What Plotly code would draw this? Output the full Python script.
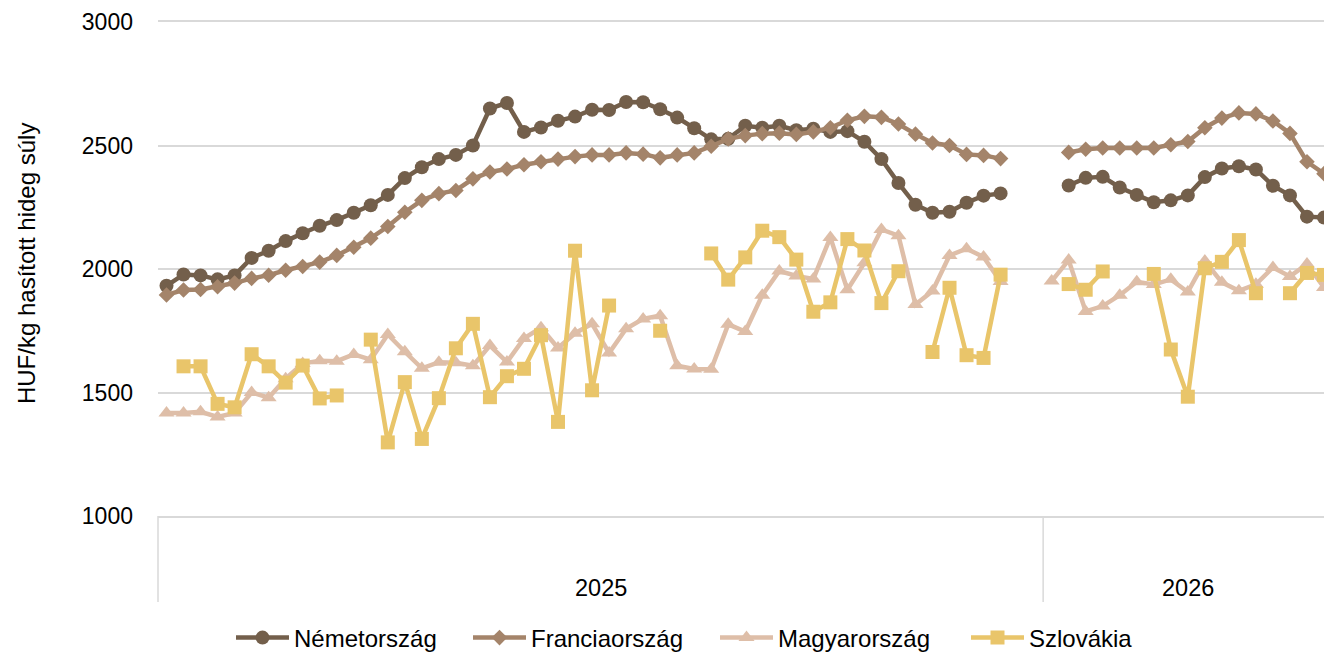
import plotly.graph_objects as go

# ---- categories ----
years = ["2025", "2026"]
weeks_2025 = list(range(1, 53))   # 52 weeks
weeks_2026 = list(range(1, 18))   # 17 weeks shown

# ---- series values (HUF/kg hasított hideg súly) ----
nemet_2025 = [1932, 1978, 1974, 1958, 1974, 2045, 2074, 2113, 2145, 2175, 2198, 2228, 2258, 2300, 2368, 2412, 2445,
              2462, 2500, 2650, 2672, 2555, 2573, 2600, 2617, 2645, 2644, 2676, 2675, 2647, 2613, 2570, 2525, 2527,
              2580, 2572, 2580, 2562, 2568, 2555, 2558, 2515, 2445, 2348, 2260, 2228, 2232, 2268, 2297, 2306,
              None, None]
nemet_2026 = [None, 2338, 2369, 2373, 2330, 2300, 2270, 2278, 2298, 2372, 2407, 2416, 2403, 2337, 2298, 2212, 2208]

francia_2025 = [1895, 1915, 1917, 1928, 1943, 1962, 1975, 1995, 2010, 2028, 2055, 2088, 2125, 2172, 2230, 2278, 2305,
                2318, 2365, 2393, 2405, 2422, 2434, 2445, 2455, 2462, 2462, 2470, 2465, 2450, 2462, 2470, 2497, 2527,
                2540, 2548, 2550, 2545, 2555, 2572, 2602, 2618, 2614, 2587, 2546, 2510, 2500, 2464, 2460, 2447,
                None, None]
francia_2026 = [None, 2472, 2485, 2490, 2490, 2490, 2490, 2503, 2516, 2572, 2611, 2632, 2628, 2599, 2549, 2434, 2386]

magyar_2025 = [1417, 1417, 1422, 1401, 1417, 1500, 1479, 1556, 1617, 1629, 1627, 1654, 1633, 1735, 1665, 1598, 1622,
               1620, 1608, 1690, 1623, 1719, 1762, 1680, 1740, 1778, 1660, 1758, 1798, 1811, 1608, 1595, 1594, 1776,
               1747, 1894, 1992, 1972, 1960, 2128, 1916, 2025, 2160, 2135, 1856, 1911, 2055, 2082, 2049, 1949,
               None, None]
magyar_2026 = [1951, 2036, 1828, 1850, 1894, 1948, 1937, 1958, 1907, 2032, 1946, 1912, 1938, 2006, 1970, 2020, 1925]

szlovak_2025 = [None, 1606, 1606, 1454, 1440, 1655, 1606, 1540, 1609, 1476, 1488, None, 1714, 1298, 1542, 1312, 1477,
                1679, 1778, 1481, 1566, 1596, 1732, 1381, 2074, 1509, 1852, None, None, 1750, None, None, 2063, 1957,
                2047, 2155, 2129, 2038, 1827, 1865, 2121, 2075, 1862, 1991, None, 1664, 1924, 1651, 1640, 1977,
                None, None]
szlovak_2026 = [None, 1939, 1916, 1990, None, None, 1980, 1674, 1483, 2003, 2029, 2117, 1902, None, 1902, 1984, 1976]

series_names = ["Németország", "Franciaország", "Magyarország", "Szlovákia"]
series_values = [nemet_2025 + nemet_2026, francia_2025 + francia_2026,
                 magyar_2025 + magyar_2026, szlovak_2025 + szlovak_2026]
colors = ["#735F4B", "#A4846A", "#DEBEA8", "#E9C56A"]
symbols = ["circle", "diamond", "triangle-up", "square"]
msizes = [14, 12, 14, 14]

y_ticks = [1000, 1500, 2000, 2500, 3000]

n25, n26 = len(weeks_2025), len(weeks_2026)
x_pos = list(range(n25 + n26))

FONT = "Arial, 'Liberation Sans', sans-serif"
W, H = 1324, 653
legend_ids = ["legend", "legend2", "legend3", "legend4"]
legend_left_px = [231, 468, 715, 966]   # left edge of each legend entry

fig = go.Figure()
for name, vals, col, sym, ms, lid in zip(series_names, series_values, colors, symbols, msizes, legend_ids):
    fig.add_trace(go.Scatter(
        x=x_pos, y=vals, name=name, mode="lines+markers",
        line=dict(color=col, width=4.5),
        marker=dict(symbol=sym, size=ms, color=col),
        connectgaps=False, legend=lid,
    ))

x_lo, x_hi = -0.5, n25 + n26 - 1.0
span = x_hi - x_lo

legend_common = dict(orientation="h", xref="container", yref="container", xanchor="left",
                     yanchor="middle", y=(H - 638) / H, font=dict(size=24, family=FONT),
                     itemwidth=53, bgcolor="rgba(0,0,0,0)", borderwidth=0)
legends = {}
for lid, lx in zip(legend_ids, legend_left_px):
    legends[lid] = dict(legend_common, x=lx / W)

L, T, B = 158, 22, 137
plot_w = W - L

fig.update_layout(
    width=W, height=H,
    margin=dict(l=L, r=0, t=T, b=B, autoexpand=False),
    paper_bgcolor="white", plot_bgcolor="white",
    font=dict(family=FONT, size=23, color="#000000"),
    showlegend=True,
    xaxis=dict(range=[x_lo, x_hi], showticklabels=False, showgrid=False, zeroline=False,
               showline=True, mirror=True, linecolor="#D9D9D9", linewidth=1.5, ticks=""),
    yaxis=dict(range=[1000, 3000], tickvals=y_ticks, ticktext=[str(v) for v in y_ticks],
               showgrid=True, gridcolor="#D9D9D9", gridwidth=1.5, zeroline=False, showline=False,
               ticks="", ticklabelstandoff=24, automargin=False, tickfont=dict(size=23, family=FONT)),
    **legends,
)

# y-axis title
fig.add_annotation(text="HUF/kg hasított hideg súly", textangle=-90, xref="paper", yref="paper",
                   x=-132 / plot_w, y=0.51, xanchor="center", yanchor="middle", showarrow=False,
                   font=dict(size=24, family=FONT))

# year category labels
centers = [(n25 - 1) / 2, n25 + (n26 - 1) / 2]
for yr, c in zip(years, centers):
    fig.add_annotation(text=yr, xref="x", yref="paper", x=c, y=-0.1457, xanchor="center",
                       yanchor="middle", showarrow=False, font=dict(size=23.5, family=FONT))

# category separators below the axis
for bx in [x_lo, n25 - 0.5]:
    px = (bx - x_lo) / span
    fig.add_shape(type="line", xref="paper", yref="paper", x0=px, x1=px, y0=0, y1=-0.174,
                  line=dict(color="#D9D9D9", width=1.5))

# remove the default page margin so the figure fills the window exactly
fig.write_html("out.html", config={"displayModeBar": False},
               post_script="document.body.style.margin='0';document.body.style.overflow='hidden';")
